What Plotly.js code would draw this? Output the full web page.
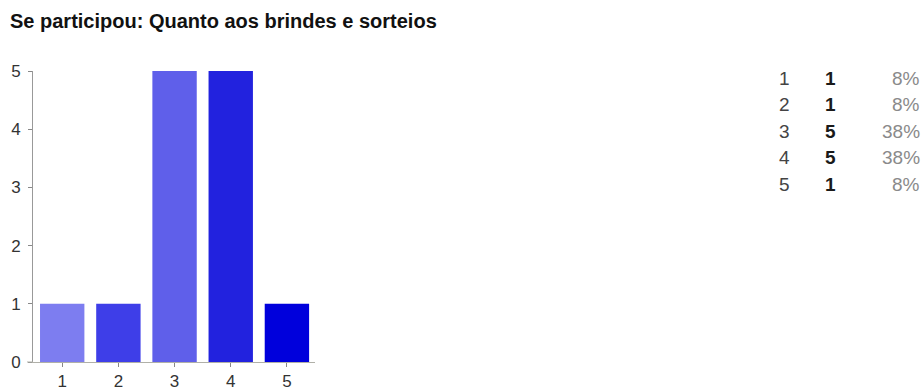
<!DOCTYPE html>
<html>
<head>
<meta charset="utf-8">
<script src="https://cdn.plot.ly/plotly-3.0.1.min.js"></script>
<style>
html,body{margin:0;padding:0;background:#fff;}
#chart{width:924px;height:392px;}
</style>
</head>
<body>
<div id="chart"></div>
<script>
var categories = ['1', '2', '3', '4', '5'];
var counts = [1, 1, 5, 5, 1];
var percents = ['8%', '8%', '38%', '38%', '8%'];
var barColors = ['#7d7df0', '#3e3ee8', '#5f5fea', '#2222de', '#0000dc'];
var titleText = 'Se participou: Quanto aos brindes e sorteios';

// plot area: x 33..315, y 71..362 (pixels)
function px(x) { return (x - 33) / 282; }
function py(y) { return (362 - y) / 291; }

var rowY0 = 78, rowStep = 26.5;
var fontFam = 'Liberation Sans, Arial, sans-serif';
var annotations = [];
for (var i = 0; i < categories.length; i++) {
  var yy = py(rowY0 + i * rowStep);
  annotations.push({xref: 'paper', yref: 'paper', x: px(777), y: yy, xanchor: 'left', yanchor: 'middle',
    text: categories[i], showarrow: false, font: {family: fontFam, size: 19, color: '#444'}});
  annotations.push({xref: 'paper', yref: 'paper', x: px(823), y: yy, xanchor: 'left', yanchor: 'middle',
    text: '<b>' + counts[i] + '</b>', showarrow: false, font: {family: fontFam, size: 19, color: '#1a1a1a'}});
  annotations.push({xref: 'paper', yref: 'paper', x: px(922), y: yy, xanchor: 'right', yanchor: 'middle',
    text: percents[i], showarrow: false, font: {family: fontFam, size: 19, color: '#8a8a8a'}});
}
annotations.push({xref: 'paper', yref: 'paper', x: px(8), y: py(21), xanchor: 'left', yanchor: 'middle',
  text: '<b>' + titleText + '</b>', showarrow: false, font: {family: fontFam, size: 20, color: '#111'}});

var trace = {
  type: 'bar',
  x: categories,
  y: counts,
  marker: {color: barColors},
  hoverinfo: 'none'
};

var layout = {
  width: 924,
  height: 392,
  margin: {l: 33, r: 609, t: 71, b: 30, pad: 0},
  paper_bgcolor: '#fff',
  plot_bgcolor: '#fff',
  showlegend: false,
  bargap: 0.21,
  font: {family: fontFam, size: 17, color: '#333'},
  xaxis: {
    type: 'category',
    range: [-0.52, 4.5],
    showline: true, linecolor: '#b0b0a8', linewidth: 1,
    ticks: 'outside', ticklen: 4, tickcolor: '#888',
    showgrid: false, zeroline: false,
    tickfont: {size: 17, color: '#333'},
    ticklabelstandoff: 0
  },
  yaxis: {
    range: [0, 5],
    dtick: 1,
    showline: true, linecolor: '#999', linewidth: 1,
    ticks: 'outside', ticklen: 4, tickcolor: '#888',
    showgrid: false, zeroline: false,
    tickfont: {size: 17, color: '#333'},
    ticklabelstandoff: 4
  },
  shapes: [{type: 'line', xref: 'paper', yref: 'paper', x0: px(27), x1: 0, y0: 0, y1: 0,
    line: {color: '#b0b0a8', width: 1}}],
  annotations: annotations
};

Plotly.newPlot('chart', [trace], layout, {displayModeBar: false, staticPlot: true});
</script>
</body>
</html>
